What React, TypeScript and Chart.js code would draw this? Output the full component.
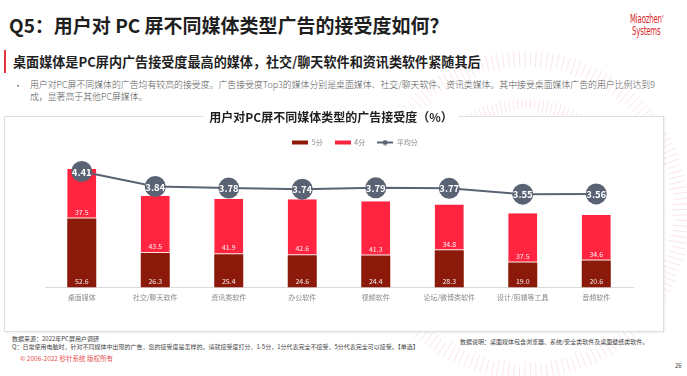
import React, { useEffect, useRef } from "react";
import { Chart, registerables } from "chart.js";

Chart.register(...registerables);

const categories = ["桌面媒体", "社交/聊天软件", "资讯类软件", "办公软件", "视频软件", "论坛/微博类软件", "设计/剪辑等工具", "音频软件"];
const score5 = [52.6, 26.3, 25.4, 24.6, 24.4, 28.3, 19.0, 20.6];
const score4 = [37.5, 43.5, 41.9, 42.6, 41.3, 34.8, 37.5, 34.6];
const avgScore = [4.41, 3.84, 3.78, 3.74, 3.79, 3.77, 3.55, 3.56];
const seriesNames = ["5分", "4分", "平均分"];

const DARK = "#8b1a0a";
const RED = "#ff2541";
const GRAY = "#5a6374";
const FONT = "'Noto Sans CJK SC', 'Noto Sans', sans-serif";

function makeSwatch(color: string, withDot: boolean) {
  const c = document.createElement("canvas");
  c.width = 16;
  c.height = 6;
  const ctx = c.getContext("2d")!;
  ctx.fillStyle = color;
  if (withDot) {
    ctx.fillRect(0, 2, 16, 2);
    ctx.beginPath();
    ctx.arc(8, 3, 2.5, 0, Math.PI * 2);
    ctx.fill();
  } else {
    ctx.fillRect(0, 1, 16, 4);
  }
  return c;
}

const legendShift = {
  id: "legendShift",
  afterLayout(chart: any) {
    const lg = chart.legend;
    if (lg) {
      lg.left += 16;
      lg.right += 16;
    }
  },
};

const labelPlugin = {
  id: "valueLabels",
  afterDatasetsDraw(chart: any) {
    const ctx = chart.ctx;
    ctx.save();
    ctx.textAlign = "center";
    ctx.textBaseline = "middle";
    [0, 1].forEach((di) => {
      const meta = chart.getDatasetMeta(di);
      const data = chart.data.datasets[di].data as number[];
      ctx.fillStyle = "rgba(255,255,255,0.92)";
      ctx.font = `7px ${FONT}`;
      meta.data.forEach((el: any, i: number) => {
        ctx.fillText(data[i].toFixed(1), el.x, el.base - 6.5);
      });
    });
    const lm = chart.getDatasetMeta(2);
    const ld = chart.data.datasets[2].data as number[];
    ctx.fillStyle = "#ffffff";
    ctx.font = `bold 9.5px ${FONT}`;
    lm.data.forEach((el: any, i: number) => {
      ctx.fillText(ld[i].toFixed(2), el.x, el.y + 0.5);
    });
    ctx.restore();
  },
};

function ChartBox() {
  const ref = useRef<HTMLCanvasElement | null>(null);
  useEffect(() => {
    if (!ref.current) return;
    const swatches = [makeSwatch(DARK, false), makeSwatch(RED, false), makeSwatch(GRAY, true)];
    const chart = new Chart(ref.current, {
      data: {
        labels: categories,
        datasets: [
          {
            type: "bar",
            label: seriesNames[0],
            data: score5,
            backgroundColor: DARK,
            yAxisID: "y",
            stack: "s",
            barPercentage: 0.395,
            categoryPercentage: 1,
          },
          {
            type: "bar",
            label: seriesNames[1],
            data: score4,
            backgroundColor: RED,
            borderColor: "rgba(255,220,220,0.9)",
            borderWidth: { bottom: 1, top: 0, left: 0, right: 0 },
            borderSkipped: false,
            yAxisID: "y",
            stack: "s",
            barPercentage: 0.395,
            categoryPercentage: 1,
          },
          {
            type: "line",
            label: seriesNames[2],
            data: avgScore,
            borderColor: GRAY,
            borderWidth: 2,
            backgroundColor: GRAY,
            pointRadius: 10.5,
            pointBackgroundColor: GRAY,
            pointBorderWidth: 0,
            tension: 0,
            yAxisID: "y2",
            order: -1,
          },
        ],
      } as any,
      options: {
        animation: false,
        responsive: false,
        maintainAspectRatio: false,
        layout: { padding: { left: 40, right: 31, top: 10, bottom: 23 } },
        plugins: {
          title: { display: false },
          tooltip: { enabled: false },
          legend: {
            display: true,
            position: "top",
            labels: {
              usePointStyle: true,
              pointStyleWidth: 16,
              boxHeight: 6,
              padding: 12,
              color: "#8a8a8a",
              font: { size: 7, family: FONT },
              generateLabels: () =>
                seriesNames.map((n, i) => ({
                  text: n,
                  pointStyle: swatches[i],
                  fillStyle: "transparent",
                  strokeStyle: "transparent",
                  lineWidth: 0,
                  datasetIndex: i,
                  fontColor: "#8a8a8a",
                })),
            },
          },
        },
        scales: {
          x: {
            grid: { display: false, drawTicks: false },
            border: { display: true, color: "#d9d9d9", width: 1 },
            ticks: { color: "#8a8a8a", font: { size: 7, family: FONT }, padding: 6, maxRotation: 0, autoSkip: false },
          },
          y: { display: false, stacked: true, min: 0, max: 100 },
          y2: { display: false, min: 0, max: 5 },
        },
      } as any,
      plugins: [legendShift, labelPlugin],
    });
    return () => chart.destroy();
  }, []);
  return (
    <canvas
      ref={ref}
      width={659}
      height={214}
      style={{ position: "absolute", left: 5, top: 117, width: 659, height: 214 }}
    />
  );
}

function Rings() {
  const cx = 525;
  const cy = 215;
  const rings = [
    { r1: 104, r2: 116, step: 2.2 },
    { r1: 148, r2: 164, step: 2 },
  ];
  const lines: React.ReactNode[] = [];
  rings.forEach((rg, k) => {
    for (let a = 0; a < 360; a += rg.step) {
      const t = (a * Math.PI) / 180;
      const jitter = ((a * 7) % 5) - 2;
      lines.push(
        <line
          key={`${k}-${a}`}
          x1={cx + (rg.r1 + jitter) * Math.cos(t)}
          y1={cy + (rg.r1 + jitter) * Math.sin(t)}
          x2={cx + rg.r2 * Math.cos(t)}
          y2={cy + rg.r2 * Math.sin(t)}
        />
      );
    }
  });
  return (
    <svg width={687} height={376} style={{ position: "absolute", left: 0, top: 0 }}>
      <g stroke="#f4b9c2" strokeWidth={0.8} opacity={0.45}>
        {lines}
      </g>
    </svg>
  );
}

export default function App() {
  const abs = (s: React.CSSProperties): React.CSSProperties => ({ position: "absolute", whiteSpace: "nowrap", ...s });
  return (
    <div
      style={{
        position: "fixed",
        left: 0,
        top: 0,
        width: 687,
        height: 376,
        background: "#ffffff",
        overflow: "hidden",
        fontFamily: FONT,
      }}
    >
      <Rings />
      <div style={abs({ left: 9, top: 11, fontSize: 19, fontWeight: 700, color: "#1f1f1f", lineHeight: "28px" })}>
        Q5：用户对 PC 屏不同媒体类型广告的接受度如何？
      </div>
      <div style={abs({ left: 630, top: 11, color: "#d9262c", fontSize: 12.5, lineHeight: "12px", fontFamily: "'Liberation Sans Narrow', 'DejaVu Sans Condensed', sans-serif", transform: "scaleX(0.62)", transformOrigin: "left top", letterSpacing: -0.3 })}>
        Miaozhen<sup style={{ fontSize: 4 }}>®</sup>
        <br />
        &nbsp;Systems
      </div>
      <div style={abs({ left: 4, top: 50, width: 2, height: 23, background: "#e8333c" })} />
      <div style={abs({ left: 13, top: 52, fontSize: 13.1, fontWeight: 700, color: "#1f1f1f", lineHeight: "20px" })}>
        桌面媒体是PC屏内广告接受度最高的媒体，社交/聊天软件和资讯类软件紧随其后
      </div>
      <div style={abs({ left: 14, top: 80, fontSize: 8, color: "#555", lineHeight: "11px" })}>•</div>
      <div style={abs({ left: 30, top: 79, fontSize: 8.9, color: "#5a5a5a", lineHeight: "11.5px", fontWeight: 300 })}>
        用户对PC屏不同媒体的广告均有较高的接受度。广告接受度Top3的媒体分别是桌面媒体、社交/聊天软件、资讯类媒体。其中接受桌面媒体广告的用户比例达到9
        <br />
        成，显著高于其他PC屏媒体。
      </div>
      <div style={abs({ left: 4, top: 116, width: 660, height: 216, border: "1px solid #dedede", boxSizing: "border-box", background: "#fff", boxShadow: "1px 1px 2px rgba(0,0,0,0.07)" })} />
      <ChartBox />
      <div style={abs({ left: 331, top: 109, transform: "translateX(-50%)", background: "#fff", padding: "0 6px", fontSize: 12, fontWeight: 700, color: "#1f1f1f", lineHeight: "16px" })}>
        用户对PC屏不同媒体类型的广告接受度（%）
      </div>
      <div style={abs({ left: 12, top: 335, fontSize: 6, color: "#444", lineHeight: "8px" })}>
        数据来源：2022年PC屏用户调研
        <br />
        Q：日常使用电脑时，针对不同媒体中出现的广告，您的接受度是怎样的。请就接受度打分，1-5分，1分代表完全不接受，5分代表完全可以接受。【单选】
      </div>
      <div style={abs({ left: 460, top: 338, fontSize: 6, color: "#444", lineHeight: "8px" })}>
        数据说明：桌面媒体包含浏览器、系统/安全类软件及桌面壁纸类软件。
      </div>
      <div style={abs({ left: 20, top: 354, fontSize: 6.5, color: "#e8504f", lineHeight: "9px" })}>
        © 2006-2022 秒针系统 版权所有
      </div>
      <div style={abs({ left: 675, top: 362, fontSize: 6, color: "#444", lineHeight: "8px" })}>26</div>
    </div>
  );
}
